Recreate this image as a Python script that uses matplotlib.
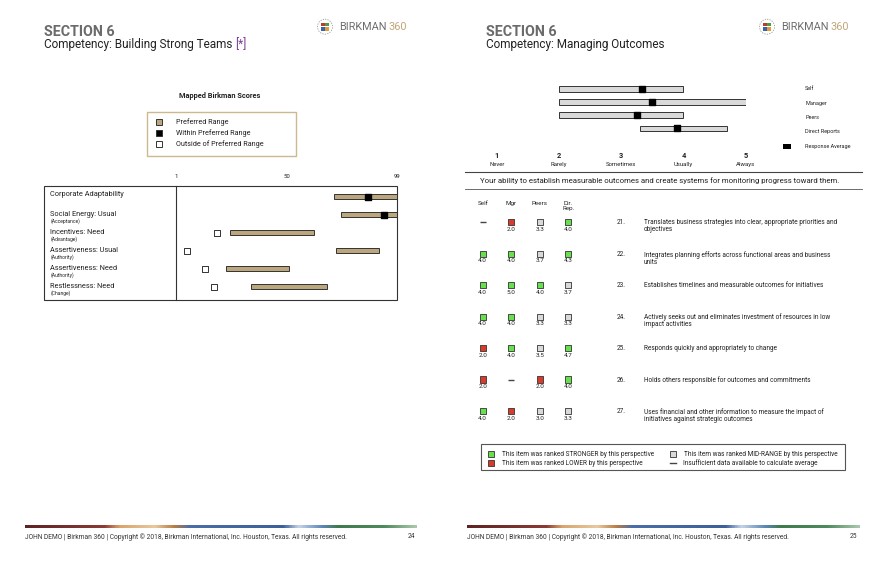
import numpy as np
import matplotlib
matplotlib.use("Agg")
import matplotlib.pyplot as plt
from matplotlib.patches import Rectangle, Circle
from matplotlib.transforms import blended_transform_factory
from matplotlib.colors import LinearSegmentedColormap

plt.rcParams['font.family'] = ['Roboto', 'DejaVu Sans']

# ---------- DATA: page 24 (mapped Birkman scores) ----------
left_labels = ["Corporate Adaptability", "Social Energy: Usual", "Incentives: Need",
               "Assertiveness: Usual", "Assertiveness: Need", "Restlessness: Need"]
left_sublabels = ["", "(Acceptance)", "(Advantage)", "(Authority)", "(Authority)", "(Change)"]
pref_low = [71, 74, 25, 72, 23, 34]
pref_high = [99, 99, 62, 91, 51, 68]
birkman_score = [86, 93, 19, 6, 14, 18]
score_ticks = [1, 50, 99]

# ---------- DATA: page 25 (managing outcomes) ----------
perspectives = ["Self", "Manager", "Peers", "Direct Reports"]
range_low = [2.0, 2.0, 2.0, 3.3]
range_high = [4.0, 5.0, 4.0, 4.7]
response_avg = [3.33, 3.5, 3.26, 3.9]
scale_nums = [1, 2, 3, 4, 5]
scale_words = ["Never", "Rarely", "Sometimes", "Usually", "Always"]

col_headers = ["Self", "Mgr", "Peers", "Dir.\nRep."]
item_nums = [21, 22, 23, 24, 25, 26, 27]
item_texts = [
    "Translates business strategies into clear, appropriate priorities and\nobjectives",
    "Integrates planning efforts across functional areas and business\nunits",
    "Establishes timelines and measurable outcomes for initiatives",
    "Actively seeks out and eliminates investment of resources in low\nimpact activities",
    "Responds quickly and appropriately to change",
    "Holds others responsible for outcomes and commitments",
    "Uses financial and other information to measure the impact of\ninitiatives against strategic outcomes",
]
# H = stronger, M = mid-range, L = lower, "" = insufficient data
self_vals = [None, 4.0, 4.0, 4.0, 2.0, 2.0, 4.0]
self_rank = ["", "H", "H", "H", "L", "L", "H"]
mgr_vals = [2.0, 4.0, 5.0, 4.0, 4.0, None, 2.0]
mgr_rank = ["L", "H", "H", "H", "H", "", "L"]
peer_vals = [3.3, 3.7, 4.0, 3.3, 3.5, 2.0, 3.0]
peer_rank = ["M", "M", "H", "M", "M", "L", "M"]
dr_vals = [4.0, 4.3, 3.7, 3.3, 4.7, 4.0, 3.3]
dr_rank = ["H", "H", "M", "M", "H", "H", "M"]

# ---------- STYLE ----------
W, H = 880, 565
TAN = "#bca67e"
DARK = "#222222"
EDGE = "#333333"
GREY_T = "#6b6b6b"
rank_colors = {"H": "#66e04c", "M": "#d9d9d9", "L": "#d93a2b"}


def px_box(x0, y0, x1, y1):
    return [x0 / W, 1 - y1 / H, (x1 - x0) / W, (y1 - y0) / H]


fig = plt.figure(figsize=(W / 100, H / 100), dpi=100)
bg = fig.add_axes([0, 0, 1, 1])
bg.set_xlim(0, W)
bg.set_ylim(H, 0)
bg.axis("off")


def header(x0, title, logo_x):
    bg.text(x0, 35.5, "SECTION 6", fontsize=10.3, fontweight="bold", color=GREY_T, va="baseline")
    t = bg.text(x0, 48, title, fontsize=8.5, color=DARK, va="baseline")
    # logo
    bg.add_patch(Circle((logo_x, 26.7), 7.5, fill=False, ec="#999999", lw=0.6, ls=(0, (1.5, 1.5))))
    cols = ["#c0392b", "#4c9a4c", "#3a62a8", "#e09a3c"]
    offs = [(-2.2, -2.2), (2.2, -2.2), (-2.2, 2.2), (2.2, 2.2)]
    for c, (dx, dy) in zip(cols, offs):
        bg.add_patch(Rectangle((logo_x + dx - 1.9, 26.7 + dy - 1.9), 3.8, 3.8, color=c, lw=0))
    b = bg.text(logo_x + 14.5, 27.2, "BIRKMAN", fontsize=7.8, color="#6e6e6e", va="center")
    return t, b


t_left, b_left = header(44, "Competency: Building Strong Teams", 325)
t_right, b_right = header(486.5, "Competency: Managing Outcomes", 767)

fig.canvas.draw()
renderer = fig.canvas.get_renderer()
inv = bg.transData.inverted()
x_end = inv.transform((t_left.get_window_extent(renderer).x1, 0))[0]
bg.text(x_end + 2.5, 48, "[*]", fontsize=8.5, color="#7b3f98", va="baseline")
for b in (b_left, b_right):
    xe = inv.transform((b.get_window_extent(renderer).x1, 0))[0]
    bg.text(xe + 1.5, 27.2, "360", fontsize=7.8, color="#c2a577", va="center")

# ---------- PAGE 24: mapped scores ----------
bg.text(220, 95.7, "Mapped Birkman Scores", fontsize=5.3, fontweight="bold", color=DARK,
        ha="center", va="center")
bg.add_patch(Rectangle((147, 112), 148.7, 44.3, fill=False, ec="#cdb98f", lw=1.0))
leg_items = [("Preferred Range", TAN), ("Within Preferred Range", "black"),
             ("Outside of Preferred Range", "white")]
for k, (lab, fc) in enumerate(leg_items):
    yy = 122.3 + 11 * k
    bg.add_patch(Rectangle((156, yy - 3), 6, 6, fc=fc, ec=EDGE, lw=0.7))
    bg.text(176, yy, lab, fontsize=5.2, color=DARK, va="center")

# outer frame with label column
bg.add_patch(Rectangle((44, 185.7), 353.3, 114.3, fill=False, ec=EDGE, lw=0.8, zorder=5))
bg.plot([176, 176], [185.7, 300], color=EDGE, lw=0.8, zorder=5)

axL = fig.add_axes(px_box(176, 185.7, 397.3, 300))
axL.set_xlim(1, 99)
axL.set_ylim(5.739, -0.611)
rows = np.arange(len(left_labels))
lo = np.array(pref_low)
hi = np.array(pref_high)
sc = np.array(birkman_score)
axL.barh(rows, hi - lo, left=lo, height=0.31, color=TAN, edgecolor=EDGE, linewidth=0.7)
inside = (sc >= lo) & (sc <= hi)
axL.scatter(sc[inside], rows[inside], marker="s", s=24, color="black", zorder=3, clip_on=False)
axL.scatter(sc[~inside], rows[~inside], marker="s", s=20, facecolor="white",
            edgecolor=EDGE, linewidth=0.7, zorder=3, clip_on=False)
axL.set_yticks([])
axL.set_xticks(score_ticks)
axL.set_xticklabels([str(v) for v in score_ticks], fontsize=4.3, color=DARK)
axL.tick_params(axis="x", top=True, labeltop=True, bottom=False, labelbottom=False, length=0, pad=5)
for sp in axL.spines.values():
    sp.set_visible(False)
axL.patch.set_alpha(0)

lab_tr = blended_transform_factory(bg.transData, axL.transData)
for i, (lab, sub) in enumerate(zip(left_labels, left_sublabels)):
    yoff = -0.1 if not sub else 0
    axL.text(50.5, i + yoff, lab, transform=lab_tr, fontsize=5.3, color=DARK, va="center")
    if sub:
        axL.text(50.5, i + 0.38, sub, transform=lab_tr, fontsize=3.6, color=DARK, va="center")

# ---------- PAGE 25: response ranges ----------
axT = fig.add_axes(px_box(496.7, 80, 745.7, 140))
axT.set_xlim(1, 5)
axT.set_ylim(3.893, -0.687)
prow = np.arange(len(perspectives))
rl = np.array(range_low)
rh = np.array(range_high)
axT.barh(prow, rh - rl, left=rl, height=0.42, color="#d9d9d9", edgecolor=EDGE, linewidth=0.7)
axT.scatter(response_avg, prow, marker="s", s=25, color="black", zorder=3, clip_on=False)
axT.axis("off")

sc_tr = blended_transform_factory(axT.transData, bg.transData)
for n, w in zip(scale_nums, scale_words):
    axT.text(n, 156.5, str(n), transform=sc_tr, fontsize=5.4, fontweight="bold",
             color=DARK, ha="center", va="center")
    axT.text(n, 164.3, w, transform=sc_tr, fontsize=4.3, color=DARK, ha="center", va="center")

for k, name in enumerate(perspectives):
    bg.text(805, 89 + 14.3 * k, name, fontsize=4.0, color=DARK, va="center")
bg.add_patch(Rectangle((782.5, 143.8), 8.3, 5, color="black", lw=0))
bg.text(805, 146.3, "Response Average", fontsize=4.0, color=DARK, va="center")

bg.plot([464.7, 861.7], [171.7, 171.7], color="#444444", lw=0.8)
bg.plot([464.7, 861.7], [189.3, 189.3], color="#555555", lw=0.6)
bg.text(480, 180.3, "Your ability to establish measurable outcomes and create systems for monitoring "
        "progress toward them.", fontsize=5.6, color=DARK, va="center")

# ---------- PAGE 25: item table ----------
axTab = fig.add_axes(px_box(466, 195, 862, 432))
axTab.set_xlim(-0.585, 13.295)
axTab.set_ylim(6.668, -0.868)
axTab.axis("off")

col_vals = [self_vals, mgr_vals, peer_vals, dr_vals]
col_ranks = [self_rank, mgr_rank, peer_rank, dr_rank]
for j, (hd, vals, ranks) in enumerate(zip(col_headers, col_vals, col_ranks)):
    axTab.text(j, -0.668, hd, fontsize=4.5, color=DARK, ha="center", va="top", linespacing=1.0)
    ii = [i for i, r in enumerate(ranks) if r]
    axTab.scatter([j] * len(ii), ii, marker="s", s=20, c=[rank_colors[ranks[i]] for i in ii],
                  edgecolors=EDGE, linewidths=0.6, zorder=3)
    miss = [i for i, r in enumerate(ranks) if not r]
    axTab.scatter([j] * len(miss), miss, marker="_", s=22, color="#444444", linewidths=1.0)
    for i, v in enumerate(vals):
        if v is not None:
            axTab.text(j, i + 0.23, f"{v:.1f}", fontsize=4.6, color=DARK, ha="center", va="center")

for i, (num, txt) in enumerate(zip(item_nums, item_texts)):
    axTab.text(4.847, i - 0.095, f"{num}.", fontsize=4.7, color=DARK, ha="center", va="top")
    axTab.text(5.654, i - 0.095, txt, fontsize=4.7, color=DARK, ha="left", va="top", linespacing=1.0)

# legend box
bg.add_patch(Rectangle((481, 444.3), 364, 25.7, fill=False, ec="#555555", lw=0.8))
for (x, y, key, lab) in [(491, 454, "H", "This item was ranked STRONGER by this perspective"),
                         (491, 463.3, "L", "This item was ranked LOWER by this perspective"),
                         (673.3, 454, "M", "This item was ranked MID-RANGE by this perspective")]:
    bg.add_patch(Rectangle((x - 3, y - 3), 6, 6, fc=rank_colors[key], ec=EDGE, lw=0.6))
    bg.text(x + 10.7, y, lab, fontsize=4.7, color=DARK, va="center")
bg.plot([670.3, 676.3], [463.3, 463.3], color="#444444", lw=1.0)
bg.text(683.3, 463.3, "Insufficient data available to calculate average", fontsize=4.7,
        color=DARK, va="center")

# ---------- FOOTERS ----------
band = LinearSegmentedColormap.from_list("band", [
    (0.0, "#5e2424"), (0.2, "#8c3a34"), (0.24, "#d9a46a"), (0.33, "#e8c9a0"),
    (0.38, "#b97d45"), (0.42, "#4a6ea8"), (0.66, "#3d5f9a"), (0.7, "#c4d4e8"),
    (0.76, "#5d86b8"), (0.8, "#3f7a4c"), (0.92, "#4f8a5c"), (1.0, "#a9c8ad")])
grad = np.linspace(0, 1, 400).reshape(1, -1)
for x0, x1, txt, page in [(25, 416.7, "24", 415), (467, 859.5, "25", 857.5)]:
    bg.imshow(grad, cmap=band, aspect="auto", extent=(x0, x1, 528, 525.2), zorder=1)
    bg.text(x0, 536.7, "JOHN DEMO | Birkman 360 | Copyright \u00a9 2018, Birkman International, Inc. "
            "Houston, Texas. All rights reserved.", fontsize=4.8, color="#333333", va="center")
    bg.text(page, 536.7, txt, fontsize=4.8, color="#333333", va="center", ha="right")
bg.set_xlim(0, W)
bg.set_ylim(H, 0)

fig.savefig("out.png", dpi=100)
